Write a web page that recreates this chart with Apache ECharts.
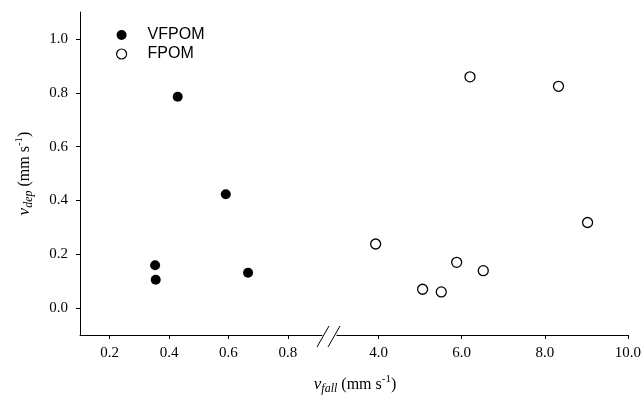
<!DOCTYPE html>
<html>
<head>
<meta charset="utf-8">
<script src="https://cdn.jsdelivr.net/npm/echarts@6/dist/echarts.min.js"></script>
<style>
  html, body { margin: 0; padding: 0; background: #fff; }
  #chart { width: 644px; height: 400px; }
</style>
</head>
<body>
<div id="chart"></div>
<script>
// VFPOM (filled) - low fall velocities
const vfpomFall = [0.429, 0.591, 0.353, 0.355, 0.666]
const vfpomDep = [0.785, 0.423, 0.159, 0.105, 0.131]
// FPOM (open) - high fall velocities
const fpomFall = [6.20, 8.33, 3.93, 9.03, 5.88, 6.52, 5.06, 5.51]
const fpomDep = [0.859, 0.824, 0.238, 0.318, 0.170, 0.139, 0.070, 0.060]

const yTicks = [0, 0.2, 0.4, 0.6, 0.8, 1.0]
const xTicksLow = [0.2, 0.4, 0.6, 0.8]
const xTicksHigh = [4, 6, 8, 10]

const serif = 'Liberation Serif'
const sans = 'Liberation Sans'

const richName = {
  i: { fontFamily: serif, fontStyle: 'italic', fontSize: 17, color: '#000' },
  sub: { fontFamily: serif, fontStyle: 'italic', fontSize: 12, color: '#000', verticalAlign: 'bottom', padding: [9, 0, 0, 0] },
  t: { fontFamily: serif, fontSize: 16, color: '#000' },
  sup: { fontFamily: serif, fontSize: 11, color: '#000', verticalAlign: 'top', padding: [0, 0, 7, 0] }
}

const pairs = (xs, ys) => xs.map((x, i) => [x, ys[i]])
const fmt = v => v.toFixed(1)

const axisCommon = {
  type: 'value',
  axisLine: { show: true, onZero: false, lineStyle: { color: '#000', width: 1 } },
  splitLine: { show: false },
  axisLabel: { fontFamily: serif, fontSize: 15, color: '#000', formatter: fmt },
  axisTick: { show: true, length: 4, lineStyle: { color: '#000' } }
}

var myChart = echarts.init(document.getElementById('chart'))

myChart.setOption({
  animation: false,
  backgroundColor: '#fff',
  grid: [
    { left: 80, right: 322, top: 12, bottom: 65 },
    { left: 337, right: 14, top: 12, bottom: 65 }
  ],
  legend: {
    orient: 'vertical',
    left: 111,
    top: 22,
    itemWidth: 10,
    itemHeight: 10,
    itemGap: 3,
    textStyle: { fontFamily: sans, fontSize: 16, color: '#000', padding: [0, 0, 0, 16] },
    data: [
      { name: 'VFPOM', itemStyle: { color: '#000', opacity: 1 } },
      { name: 'FPOM', itemStyle: { color: '#fff', borderColor: '#000', borderWidth: 1.2 } }
    ]
  },
  xAxis: [
    Object.assign({}, axisCommon, {
      gridIndex: 0, min: 0.1, max: 0.915,
      axisLabel: Object.assign({}, axisCommon.axisLabel, { customValues: xTicksLow, margin: 11 }),
      axisTick: Object.assign({}, axisCommon.axisTick, { customValues: xTicksLow })
    }),
    Object.assign({}, axisCommon, {
      gridIndex: 1, min: 3, max: 10,
      axisLabel: Object.assign({}, axisCommon.axisLabel, { customValues: xTicksHigh, margin: 11 }),
      axisTick: Object.assign({}, axisCommon.axisTick, { customValues: xTicksHigh })
    })
  ],
  yAxis: [
    Object.assign({}, axisCommon, {
      gridIndex: 0, min: -0.1, max: 1.1,
      axisLabel: Object.assign({}, axisCommon.axisLabel, { customValues: yTicks, margin: 12 }),
      axisTick: Object.assign({}, axisCommon.axisTick, { customValues: yTicks }),
      name: '{i|v}{sub|dep}{t| (mm s}{sup|-1}{t|)}',
      nameLocation: 'middle',
      nameRotate: 90,
      nameGap: 45,
      nameTextStyle: { rich: richName }
    }),
    { type: 'value', gridIndex: 1, min: -0.1, max: 1.1, show: false }
  ],
  graphic: [
    {
      type: 'text', x: 355, y: 374,
      style: { text: '{i|v}{sub|fall}{t| (mm s}{sup|-1}{t|)}', rich: richName, align: 'center' }
    },
    { type: 'line', shape: { x1: 317, y1: 347, x2: 329, y2: 326 }, style: { stroke: '#000', lineWidth: 1 } },
    { type: 'line', shape: { x1: 328, y1: 347, x2: 340, y2: 326 }, style: { stroke: '#000', lineWidth: 1 } }
  ],
  series: [
    {
      name: 'VFPOM',
      type: 'scatter',
      xAxisIndex: 0,
      yAxisIndex: 0,
      symbol: 'circle',
      symbolSize: 10,
      itemStyle: { color: '#000', opacity: 1 },
      data: pairs(vfpomFall, vfpomDep)
    },
    {
      name: 'FPOM',
      type: 'scatter',
      xAxisIndex: 1,
      yAxisIndex: 1,
      symbol: 'circle',
      symbolSize: 10,
      itemStyle: { color: '#fff', borderColor: '#000', borderWidth: 1.3, opacity: 1 },
      data: pairs(fpomFall, fpomDep)
    }
  ]
})
</script>
</body>
</html>
